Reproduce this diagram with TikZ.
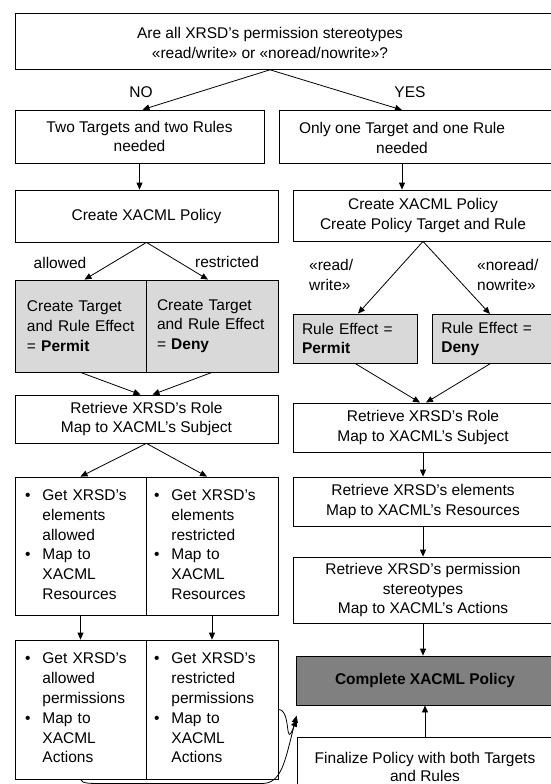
\documentclass[tikz,border=0pt]{standalone}
\usepackage{fontspec}
\setmainfont{Liberation Sans}
\usetikzlibrary{arrows.meta,calc}
\definecolor{lightg}{HTML}{D9D9D9}
\definecolor{darkg}{HTML}{808080}
\newcommand\myfs{\fontsize{15.5}{19.8}\selectfont}
\newcommand\bul[6]{\begin{tabular}{@{}l@{\hspace{12pt}}l@{}}\textbullet&#1\\&#2\\&#3\\\textbullet&#4\\&#5\\&#6\end{tabular}}
\begin{document}
\begin{tikzpicture}[x=1pt,y=-1pt,
  box/.style={draw=black, line width=0.8pt, rectangle, inner sep=0pt, font=\myfs, align=center},
  gbox/.style={box, fill=lightg},
  lbl/.style={font=\myfs, inner sep=0pt},
  arr/.style={-{Triangle[length=7pt,width=6pt]}, line width=0.8pt}
]
\useasboundingbox (0,0) rectangle (550,784);
% top question
\node[box, minimum width=560, minimum height=56, anchor=north west] (q) at (15,13) {};
\node[lbl, align=center] (qt) at (270,43) {Are all XRSD’s permission stereotypes\\«read/write» or «noread/nowrite»?};
\node[lbl] (no) at (141,92) {NO};
\node[lbl] (yes) at (410,92) {YES};
% row 2
\node[box, minimum width=249, minimum height=53] (a1) at (139.5,136.5) {Two Targets and two Rules\\needed};
\node[box, minimum width=290, minimum height=53, anchor=north west] (b1) at (279,110) {};
\node[lbl, align=center] (b1t) at (402,138) {Only one Target and one Rule\\needed};
% row 3
\node[box, minimum width=263, minimum height=52] (a2) at (146.5,216) {Create XACML Policy};
\node[box, minimum width=260, minimum height=51] (b2) at (423,215.5) {Create XACML Policy\\Create Policy Target and Rule};
\node[lbl] (al) at (60,263) {allowed};
\node[lbl] (re) at (227,262) {restricted};
\node[lbl, align=left, anchor=west] (rw) at (309,275) {«read/\\write»};
\node[lbl, align=left, anchor=west] (nrw) at (477,275) {«noread/\\nowrite»};
% gray boxes
\node[gbox, align=left, minimum width=131, minimum height=92, inner xsep=12pt, text width=107pt] (a3l) at (80.5,326) {\mbox{Create Target}\\\mbox{and Rule Effect}\\= \textbf{Permit}};
\node[gbox, align=left, minimum width=132, minimum height=92, inner xsep=11pt, text width=110pt] (a3r) at (212,326) {\mbox{Create Target}\\\mbox{and Rule Effect}\\= \textbf{Deny}};
\node[gbox, align=left, minimum width=124, minimum height=49, inner xsep=9pt, text width=106pt] (b3l) at (355,338.5) {Rule Effect =\\\textbf{Permit}};
\node[gbox, align=left, minimum width=138, minimum height=49, inner xsep=9pt, text width=120pt, anchor=north west] (b3r) at (432,314) {Rule Effect =\\\textbf{Deny}};
% retrieve role
\node[box, minimum width=263, minimum height=48] (a4) at (146.5,419) {Retrieve XRSD’s Role\\Map to XACML’s Subject};
\node[box, minimum width=260, minimum height=49] (b4) at (423,427.5) {Retrieve XRSD’s Role\\Map to XACML’s Subject};
% bullet boxes
\node[box, align=left, minimum width=131, minimum height=138, inner xsep=10pt, text width=111pt] (a5l) at (80.5,546) {\bul{Get XRSD’s}{elements}{allowed}{Map to}{XACML}{Resources}};
\node[box, align=left, minimum width=132, minimum height=138, inner xsep=8pt, text width=116pt] (a5r) at (212,546) {\bul{Get XRSD’s}{elements}{restricted}{Map to}{XACML}{Resources}};
\node[box, align=left, minimum width=131, minimum height=139, inner xsep=10pt, text width=111pt] (a6l) at (80.5,709.5) {\bul{Get XRSD’s}{allowed}{permissions}{Map to}{XACML}{Actions}};
\node[box, align=left, minimum width=132, minimum height=139, inner xsep=8pt, text width=116pt] (a6r) at (212,709.5) {\bul{Get XRSD’s}{restricted}{permissions}{Map to}{XACML}{Actions}};
% right column
\node[box, minimum width=260, minimum height=49] (b5) at (423,501.5) {Retrieve XRSD’s elements\\Map to XACML’s Resources};
\node[box, minimum width=260, minimum height=66] (b6) at (423,590) {Retrieve XRSD’s permission\\stereotypes\\Map to XACML’s Actions};
\node[box, fill=darkg, minimum width=258, minimum height=49] (b7) at (425,680.5) {\textbf{Complete XACML Policy}};
\node[box, minimum width=256, minimum height=60, font=\fontsize{15.5}{18}\selectfont] (b8) at (425,767) {Finalize Policy with both Targets\\and Rules};
% connectors
\draw[arr] (qt.south |- q.south) -- ($(a1.north)+(3,0)$);
\draw[arr] (qt.south |- q.south) -- (b1t.north |- b1.north);
\draw[arr] (a1.south) -- (a1.south |- a2.north);
\draw[arr] (b1t.south |- b1.south) -- (b1t.south |- b2.north);
\draw[arr] (a2.south) -- ($(a3l.north)+(4,0)$);
\draw[arr] (a2.south) -- ($(a3r.north)+(-4,0)$);
\draw[arr] (b2.south) -- ($(b3l.north)+(3,0)$);
\draw[arr] (b2.south) -- ($(b3r.north west)+(58,0)$);
\draw[arr] (a3l.south) -- ($(a4.north)+(-6,0)$);
\draw[arr] (a3r.south) -- ($(a4.north)+(6,0)$);
\draw[arr] (b3l.south) -- ($(b4.north)+(-3,0)$);
\draw[arr] ($(b3r.south west)+(58,0)$) -- ($(b4.north)+(3,0)$);
\draw[arr] (a4.south) -- (a5l.north);
\draw[arr] (a4.south) -- ($(a5r.north)+(-5,0)$);
\draw[arr] (a5l.south) -- (a6l.north);
\draw[arr] (a5r.south) -- (a6r.north);
\draw[arr] (b4.south) -- (b5.north);
\draw[arr] (b5.south) -- (b6.north);
\draw[arr] (b6.south) -- (b6.south |- b7.north);
\draw[arr] (b8.north) -- (b8.north |- b7.south);
\draw[arr] (a6r.east) .. controls (292,709.5) and (284,752) .. ($(b8.north west)+(0,-17)$);
\draw[arr] (a6l.south) .. controls (82,784) and (90,783.5) .. (110,783.5) -- (262,783.5) .. controls (282,783.5) and (285,761) .. ($(b8.north west)+(0,-21)$);
\end{tikzpicture}
\end{document}
